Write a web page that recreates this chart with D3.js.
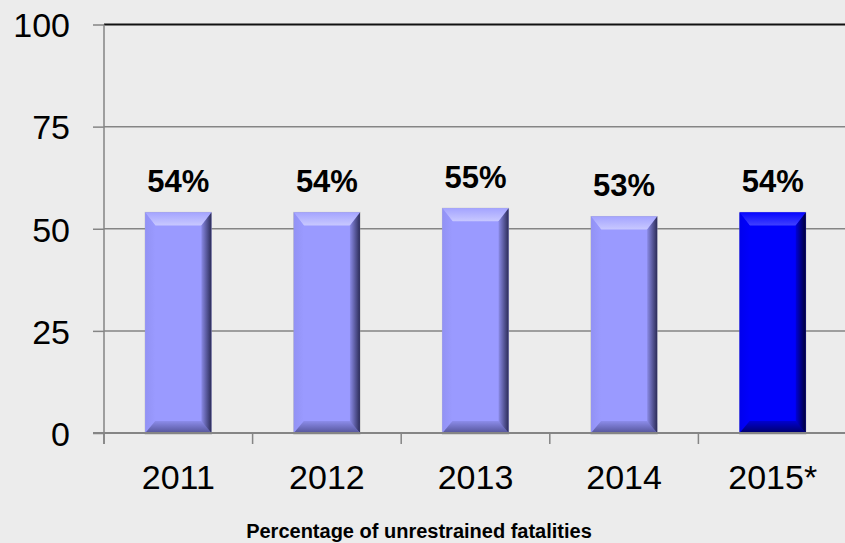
<!DOCTYPE html>
<html>
<head>
<meta charset="utf-8">
<script src="https://cdn.jsdelivr.net/npm/d3@7"></script>
<style>
  html, body { margin: 0; padding: 0; background: #ececec; }
  svg { display: block; font-family: Arial, "Liberation Sans", sans-serif; }
</style>
</head>
<body>
<div id="chart"></div>
<script>
// data
const years = ['2011', '2012', '2013', '2014', '2015*'];
const unrestrained = [54, 54, 55, 53, 54];
const yTicks = [0, 25, 50, 75, 100];
const axisTitle = 'Percentage of unrestrained fatalities';

const width = 845;
const height = 543;

const svg = d3.select('#chart').append('svg')
    .attr('width', width)
    .attr('height', height);

svg.append('rect')
    .attr('width', width)
    .attr('height', height)
    .attr('fill', '#ececec');

const xScale = d3.scaleBand()
    .domain(years)
    .range([104, 847])
    .paddingInner(0.555)
    .paddingOuter(0.2775);

const yScale = d3.scaleLinear()
    .domain([0, 100])
    .range([433, 24.5]);

// colour sets for the bevelled bars
const palettes = {
    light: { face: '#9a9aff', top0: '#a4a4ff', top1: '#c8c8ff', left: '#9292f4', right0: '#8a8ae6', right1: '#2c2c58', bot0: '#8c8cea', bot1: '#55559a' },
    dark:  { face: '#0000fc', top0: '#0606ff', top1: '#4040ff', left: '#0000ee', right0: '#0000d8', right1: '#000038', bot0: '#0000d0', bot1: '#00006a' }
};

const defs = svg.append('defs');
Object.entries(palettes).forEach(([key, p]) => {
    const grad = (id, dir, c0, c1) => {
        const g = defs.append('linearGradient').attr('id', `${key}-${id}`);
        if (dir === 'v') g.attr('x1', 0).attr('y1', 0).attr('x2', 0).attr('y2', 1);
        else g.attr('x1', 0).attr('y1', 0).attr('x2', 1).attr('y2', 0);
        g.append('stop').attr('offset', '0%').attr('stop-color', c0);
        g.append('stop').attr('offset', '100%').attr('stop-color', c1);
    };
    grad('top', 'v', p.top0, p.top1);
    grad('right', 'h', p.right0, p.right1);
    grad('bot', 'v', p.bot0, p.bot1);
    grad('left', 'h', p.left, p.face);
});

// gridlines
svg.append('g')
    .selectAll('line')
    .data([25, 50, 75])
    .enter()
    .append('line')
    .attr('x1', 104)
    .attr('x2', width)
    .attr('y1', d => yScale(d))
    .attr('y2', d => yScale(d))
    .attr('stroke', '#858585')
    .attr('stroke-width', 1.5);

// top border at 100
svg.append('line')
    .attr('x1', 104)
    .attr('x2', width)
    .attr('y1', yScale(100))
    .attr('y2', yScale(100))
    .attr('stroke', '#111')
    .attr('stroke-width', 2);

// y axis
const yAxis = svg.append('g')
    .attr('transform', 'translate(104,0)')
    .call(d3.axisLeft(yScale).tickValues(yTicks).tickSize(11).tickPadding(23));
yAxis.select('.domain').remove();
yAxis.selectAll('.tick line').attr('stroke', '#858585').attr('stroke-width', 1.5);
yAxis.selectAll('.tick text')
    .attr('fill', '#000')
    .style('font-size', '34px')
    .style('font-family', 'Arial, "Liberation Sans", sans-serif')
    .attr('dy', '0.36em');

svg.append('line')
    .attr('x1', 104).attr('x2', 104)
    .attr('y1', yScale(100)).attr('y2', 444)
    .attr('stroke', '#858585')
    .attr('stroke-width', 1.5);

// bars
const bevel = 10;
const bars = svg.append('g')
    .selectAll('g')
    .data(years.map((y, i) => ({ year: y, value: unrestrained[i], key: i === years.length - 1 ? 'dark' : 'light' })))
    .enter()
    .append('g');

bars.each(function(d) {
    const g = d3.select(this);
    const x0 = xScale(d.year);
    const x1 = x0 + xScale.bandwidth();
    const y0 = yScale(d.value);
    const y1 = yScale(0);
    const b = bevel;
    const poly = pts => pts.map(p => p.join(',')).join(' ');

    // soft shadow outline
    g.append('rect')
        .attr('x', x0 - 0.5).attr('y', y0 - 0.5)
        .attr('width', x1 - x0 + 1).attr('height', y1 - y0 + 2)
        .attr('fill', '#9a9a9a').attr('opacity', 0.6);
    g.append('rect')
        .attr('x', x0).attr('y', y0)
        .attr('width', x1 - x0).attr('height', y1 - y0)
        .attr('fill', palettes[d.key].face);
    g.append('polygon')
        .attr('points', poly([[x0, y0], [x1, y0], [x1 - b, y0 + b + 3], [x0 + b, y0 + b + 3]]))
        .attr('fill', `url(#${d.key}-top)`);
    g.append('polygon')
        .attr('points', poly([[x0, y0], [x0 + b, y0 + b + 3], [x0 + b, y1 - b], [x0, y1]]))
        .attr('fill', `url(#${d.key}-left)`);
    g.append('polygon')
        .attr('points', poly([[x1, y0], [x1, y1], [x1 - b, y1 - b], [x1 - b, y0 + b + 3]]))
        .attr('fill', `url(#${d.key}-right)`);
    g.append('polygon')
        .attr('points', poly([[x0, y1], [x0 + b, y1 - b - 2], [x1 - b, y1 - b - 2], [x1, y1]]))
        .attr('fill', `url(#${d.key}-bot)`);
});

// x axis line at 0 and category ticks
svg.append('line')
    .attr('x1', 93).attr('x2', width)
    .attr('y1', yScale(0)).attr('y2', yScale(0))
    .attr('stroke', '#858585')
    .attr('stroke-width', 2);

const step = xScale.step();
svg.append('g')
    .selectAll('line')
    .data(years)
    .enter()
    .append('line')
    .attr('x1', d => xScale(d) - step * xScale.paddingInner() / 2)
    .attr('x2', d => xScale(d) - step * xScale.paddingInner() / 2)
    .attr('y1', yScale(0))
    .attr('y2', 444)
    .attr('stroke', '#858585')
    .attr('stroke-width', 1.5);

// category labels
svg.append('g')
    .selectAll('text')
    .data(years)
    .enter()
    .append('text')
    .attr('x', d => xScale(d) + xScale.bandwidth() / 2)
    .attr('y', 489)
    .attr('text-anchor', 'middle')
    .style('font-size', '34px')
    .attr('fill', '#000')
    .text(d => d);

// value labels
svg.append('g')
    .selectAll('text')
    .data(years.map((y, i) => ({ year: y, value: unrestrained[i] })))
    .enter()
    .append('text')
    .attr('x', d => xScale(d.year) + xScale.bandwidth() / 2)
    .attr('y', d => yScale(d.value) - 20)
    .attr('text-anchor', 'middle')
    .style('font-size', '31px')
    .style('font-weight', 'bold')
    .attr('fill', '#000')
    .text(d => d.value + '%');

// axis title
svg.append('text')
    .attr('x', 419)
    .attr('y', 538)
    .attr('text-anchor', 'middle')
    .style('font-size', '20px')
    .style('font-weight', 'bold')
    .attr('fill', '#000')
    .text(axisTitle);
</script>
</body>
</html>
